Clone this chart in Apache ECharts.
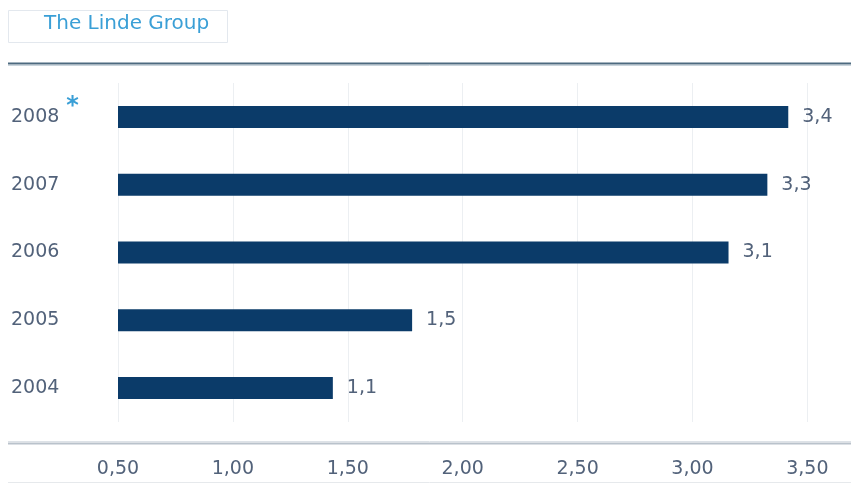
<!DOCTYPE html>
<html>
<head>
<meta charset="utf-8">
<script src="https://cdn.jsdelivr.net/npm/echarts@6/dist/echarts.min.js"></script>
<style>html,body{margin:0;padding:0;background:#fff;}#c{width:851px;height:484px;}</style>
</head>
<body>
<div id="c"></div>
<script>
var categories = ['2004', '2005', '2006', '2007', '2008'];
var barValues = [1.435, 1.78, 3.157, 3.326, 3.417];
var barLabels = ['1,1', '1,5', '3,1', '3,3', '3,4'];
var starredCategory = '2008';
var title = 'The Linde Group';

var FONT = '"DejaVu Sans", Arial, sans-serif';
var chart = echarts.init(document.getElementById('c'));
var textColor = '#52627a';
chart.setOption({
  animation: false,
  backgroundColor: '#ffffff',
  grid: { left: 118, right: 0, top: 83, bottom: 62, containLabel: false },
  graphic: [
    { type: 'rect', shape: { x: 8.5, y: 10.5, width: 219, height: 32 },
      style: { fill: '#ffffff', stroke: '#e3e8ee', lineWidth: 1 } },
    { type: 'text', left: 44, top: 14,
      style: { text: title, fill: '#3a9fd6', font: '20px ' + FONT } },
    { type: 'line', shape: { x1: 8, y1: 63.5, x2: 851, y2: 63.5 },
      style: { stroke: '#4d6a80', lineWidth: 2 } },
    { type: 'line', shape: { x1: 8, y1: 65.5, x2: 851, y2: 65.5 },
      style: { stroke: '#c9d4dc', lineWidth: 1 } },
    { type: 'line', shape: { x1: 8, y1: 441.5, x2: 851, y2: 441.5 },
      style: { stroke: '#dde2e7', lineWidth: 1 } },
    { type: 'line', shape: { x1: 8, y1: 443.5, x2: 851, y2: 443.5 },
      style: { stroke: '#b9c2cb', lineWidth: 2 } },
    { type: 'line', shape: { x1: 8, y1: 482.5, x2: 851, y2: 482.5 },
      style: { stroke: '#e6e9ec', lineWidth: 1 } }
  ],
  xAxis: {
    type: 'value', min: 0.5, max: 3.69, interval: 0.5,
    axisLine: { show: false },
    axisTick: { show: false },
    splitLine: { show: true, lineStyle: { color: '#eceff2', width: 1 } },
    axisLabel: {
      showMaxLabel: false,
      margin: 38,
      color: textColor,
      fontSize: 19,
      fontFamily: FONT,
      formatter: function (v) { return v.toFixed(2).replace('.', ','); }
    }
  },
  yAxis: {
    type: 'category',
    data: categories,
    axisLine: { show: false },
    axisTick: { show: false },
    axisLabel: {
      align: 'left',
      margin: 107,
      color: textColor,
      fontSize: 19,
      fontFamily: FONT,
      formatter: function (v) { return v === starredCategory ? '{y|' + v + '}{s|*}' : '{y|' + v + '}'; },
      rich: {
        y: { color: textColor, fontSize: 19, fontFamily: FONT },
        s: { color: '#3a9fd6', fontSize: 24, fontWeight: 'bold', fontFamily: FONT, padding: [0, 0, 20, 7] }
      }
    }
  },
  series: [{
    type: 'bar',
    data: barValues,
    barWidth: 22,
    itemStyle: { color: '#0b3b69' },
    label: {
      show: true, position: 'right', distance: 14,
      color: textColor, fontSize: 19,
      fontFamily: FONT,
      formatter: function (p) { return barLabels[p.dataIndex]; }
    }
  }]
});
</script>
</body>
</html>
